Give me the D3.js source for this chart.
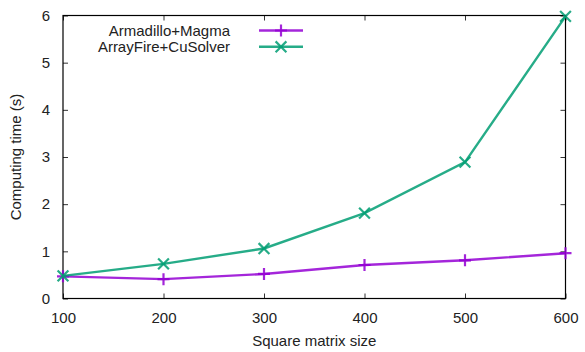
<!DOCTYPE html>
<html><head><meta charset="utf-8">
<script src="https://cdn.jsdelivr.net/npm/d3@7"></script>
<style>body{margin:0;background:#fff}svg{display:block}text{font-family:"Liberation Sans",Arial,sans-serif;fill:#222}</style>
</head><body>
<script>
const sizes = [100, 200, 300, 400, 500, 600];
const magma = [0.47, 0.41, 0.52, 0.71, 0.81, 0.96];
const arrayfire = [0.48, 0.735, 1.06, 1.81, 2.89, 5.98];
const seriesNames = ["Armadillo+Magma", "ArrayFire+CuSolver"];
const seriesColors = ["#9400d3", "#009e73"];
const xTicks = [100, 200, 300, 400, 500, 600];
const yTicks = [0, 1, 2, 3, 4, 5, 6];

const W = 585, H = 352;
const FS = 15;
const m = {l: 63, r: 19.5, t: 15.5, b: 53.5};
const svg = d3.select("body").append("svg").attr("width", W).attr("height", H);
const x = d3.scaleLinear().domain([100, 600]).range([m.l, W - m.r]);
const y = d3.scaleLinear().domain([0, 6]).range([H - m.b, m.t]);

const tl = 5;
const g = svg.append("g");
g.append("g").attr("transform", `translate(0,${H - m.b})`)
  .call(d3.axisBottom(x).tickValues(xTicks).tickSize(-tl).tickPadding(14).tickFormat(d3.format("d")))
  .call(a => a.select(".domain").remove())
  .call(a => a.selectAll("text").attr("font-size", FS).attr("fill", "#222"));
g.append("g").attr("transform", `translate(0,${m.t})`)
  .call(d3.axisTop(x).tickValues(xTicks).tickSize(-tl).tickFormat(""))
  .call(a => a.select(".domain").remove());
g.append("g").attr("transform", `translate(${m.l},0)`)
  .call(d3.axisLeft(y).tickValues(yTicks).tickSize(-tl).tickPadding(13).tickFormat(d3.format("d")))
  .call(a => a.select(".domain").remove())
  .call(a => a.selectAll("text").attr("font-size", FS).attr("fill", "#222"));
g.append("g").attr("transform", `translate(${W - m.r},0)`)
  .call(d3.axisRight(y).tickValues(yTicks).tickSize(-tl).tickFormat(""))
  .call(a => a.select(".domain").remove());
svg.selectAll(".tick line").attr("stroke", "#333");

svg.append("rect").attr("x", m.l).attr("y", m.t)
  .attr("width", W - m.r - m.l).attr("height", H - m.b - m.t)
  .attr("fill", "none").attr("stroke", "#000").attr("stroke-width", 1.2);

svg.append("text").attr("x", (m.l + W - m.r) / 2).attr("y", 346)
  .attr("text-anchor", "middle").attr("font-size", FS).text("Square matrix size");
svg.append("text").attr("transform", `translate(21,${(m.t + H - m.b) / 2}) rotate(-90)`)
  .attr("text-anchor", "middle").attr("font-size", FS).text("Computing time (s)");

const data = [magma, arrayfire];
const line = d3.line().x((d, i) => x(sizes[i])).y(d => y(d));
const ms = 6;
function marker(sel, k, cx, cy, col) {
  if (k === 0) {
    sel.append("path").attr("d", `M${cx - ms},${cy}H${cx + ms}M${cx},${cy - ms}V${cy + ms}`)
      .attr("stroke", col).attr("stroke-width", 2.2).attr("fill", "none");
  } else {
    const s = ms * 0.9;
    sel.append("path").attr("d", `M${cx - s},${cy - s}L${cx + s},${cy + s}M${cx - s},${cy + s}L${cx + s},${cy - s}`)
      .attr("stroke", col).attr("stroke-width", 2.2).attr("fill", "none");
  }
}
data.forEach((vals, k) => {
  const col = seriesColors[k];
  svg.append("path").datum(vals).attr("d", line).attr("fill", "none")
    .attr("stroke", col).attr("stroke-width", 2.4).attr("stroke-opacity", 0.85);
  const gm = svg.append("g").attr("opacity", 0.85);
  vals.forEach((v, i) => marker(gm, k, x(sizes[i]), y(v), col));
});

seriesNames.forEach((n, k) => {
  const ly = 30.5 + k * 16.3;
  svg.append("text").attr("x", 230).attr("y", ly + 5).attr("text-anchor", "end")
    .attr("font-size", FS).text(n);
  svg.append("line").attr("x1", 259).attr("x2", 303).attr("y1", ly).attr("y2", ly)
    .attr("stroke", seriesColors[k]).attr("stroke-width", 2.4).attr("stroke-opacity", 0.85);
  const gm = svg.append("g").attr("opacity", 0.85);
  marker(gm, k, 281, ly, seriesColors[k]);
});
</script>
</body></html>
